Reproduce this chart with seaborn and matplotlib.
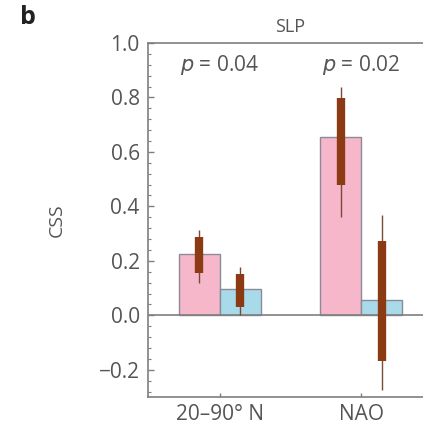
import numpy as np
import pandas as pd
import matplotlib
matplotlib.use("Agg")
import matplotlib.pyplot as plt
import seaborn as sns
from matplotlib.ticker import MultipleLocator, AutoMinorLocator

# data
regions = ["20\u201390\u00b0 N", "NAO"]
groups = ["forced", "control"]
css_forced = [0.225, 0.655]
css_control = [0.095, 0.055]
# inner (thick) range
inner_lo = {"forced": [0.157, 0.479], "control": [0.031, -0.166]}
inner_hi = {"forced": [0.286, 0.798], "control": [0.150, 0.274]}
# outer (thin) range
outer_lo = {"forced": [0.117, 0.362], "control": [0.000, -0.276]}
outer_hi = {"forced": [0.313, 0.839], "control": [0.176, 0.368]}
pvals = ["0.04", "0.02"]

df = pd.DataFrame({
    "region": regions * 2,
    "group": [groups[0]] * 2 + [groups[1]] * 2,
    "css": css_forced + css_control,
})

sns.set_style("ticks")
plt.rcParams["font.family"] = ["Open Sans", "DejaVu Sans"]
txt = "#555555"
spine_c = "#7f7f7f"

fig = plt.figure(figsize=(4.23, 4.28), dpi=100)
ax = fig.add_axes([148 / 423, 31 / 428, 285 / 423, 354 / 428])

sns.barplot(data=df, x="region", y="css", hue="group", order=regions,
            hue_order=groups, palette=["#f6b7ca", "#a9daea"], saturation=1,
            width=0.58, edgecolor="#8a8a98", linewidth=1.0, legend=False, ax=ax)

for cont, g in zip(ax.containers, groups):
    for i, bar in enumerate(cont):
        xc = bar.get_x() + bar.get_width() / 2
        ax.vlines(xc, outer_lo[g][i], outer_hi[g][i], color="#7a4a38", lw=1.0, zorder=4)
        ax.vlines(xc, inner_lo[g][i], inner_hi[g][i], color="#8b3a14", lw=6, zorder=5)

ax.axhline(0, color=spine_c, lw=1.2, zorder=3)

for i, p in enumerate(pvals):
    ax.text(i, 0.92, "$p$ = " + p, ha="center", va="center", fontsize=15, color=txt)

ax.set_xlim(-0.51, 1.51)
ax.set_ylim(-0.3, 1.0)
ax.yaxis.set_major_locator(MultipleLocator(0.2))
ax.yaxis.set_minor_locator(AutoMinorLocator(5))
ax.set_yticklabels([f"{v:.1f}".replace("-", "\u2212") for v in ax.get_yticks()])
ax.tick_params(axis="y", which="major", direction="in", length=4, width=1,
               color=spine_c, labelsize=15, labelcolor=txt, pad=6)
ax.tick_params(axis="y", which="minor", direction="in", length=2.5, width=0.8, color=spine_c)
ax.tick_params(axis="x", direction="in", length=3, width=1, color=spine_c,
               labelsize=15, labelcolor=txt, pad=5)
ax.set_xlabel("")
ax.set_ylabel("CSS", fontsize=14, color=txt)
ax.yaxis.set_label_coords(-0.29, 0.5)
ax.set_title("SLP", fontsize=13, color=txt, pad=8)

for s in ["left", "top", "bottom"]:
    ax.spines[s].set_color(spine_c)
    ax.spines[s].set_linewidth(1.2)
ax.spines["right"].set_visible(False)

fig.text(28 / 423, 1 - 18 / 428, "b", fontsize=18, fontweight="bold",
         color="#222222", ha="center", va="center")

fig.savefig("out.png", dpi=100)
